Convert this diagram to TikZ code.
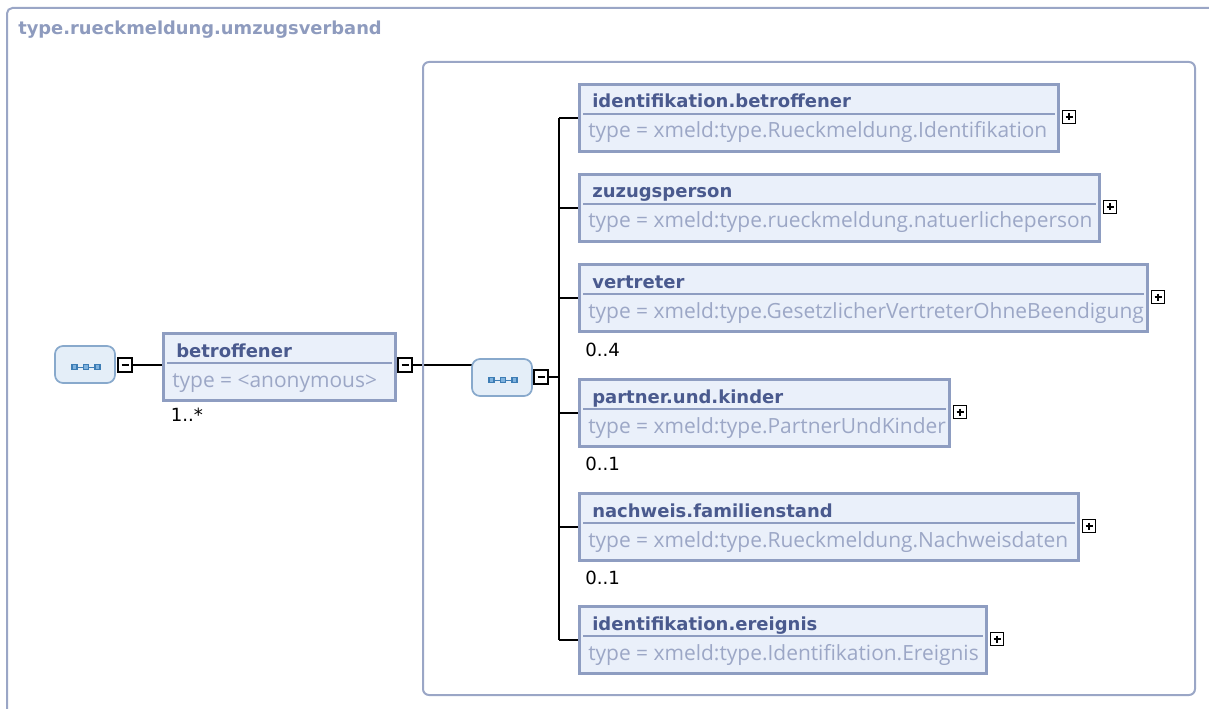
\documentclass[tikz,border=0pt]{standalone}
\usepackage{fontspec}
\setmainfont{DejaVu Sans}
\newfontfamily\typefont{Open Sans}
\usetikzlibrary{calc,backgrounds}
\definecolor{cframe}{HTML}{9AA6C6}
\definecolor{cframetext}{HTML}{8E9BBE}
\definecolor{cborder}{HTML}{8E9DC1}
\definecolor{cfill}{HTML}{EAF0FA}
\definecolor{ctitle}{HTML}{4A5A8E}
\definecolor{ctype}{HTML}{9CA7C6}
\definecolor{cseqborder}{HTML}{88A9CC}
\definecolor{cseqfill}{HTML}{E4EEF8}
\definecolor{cseqdot}{HTML}{3D7DB5}
\definecolor{cseqdotfill}{HTML}{7FB2DE}

\tikzset{
  framebox/.style={draw=cframe,line width=1.5pt,rounded corners=4pt},
  elbox/.style={draw=cborder,fill=cfill,line width=2.25pt,anchor=north west,inner sep=0pt,outer sep=0pt,minimum height=50.25pt},
  elsep/.style={draw=cborder,line width=1.2pt},
  eltitle/.style={anchor=base west,inner sep=0pt,font=\fontsize{13.5pt}{16pt}\selectfont\bfseries,text=ctitle},
  eltype/.style={anchor=base west,inner sep=0pt,font=\typefont\fontsize{15.7pt}{19pt}\selectfont,text=ctype},
  mult/.style={anchor=base west,inner sep=0pt,font=\fontsize{13.6pt}{16pt}\selectfont,text=black},
  frametitle/.style={anchor=base west,inner sep=0pt,font=\fontsize{13.4pt}{16pt}\selectfont\bfseries,text=cframetext},
  seqbox/.style={draw=cseqborder,fill=cseqfill,line width=1.3pt,rounded corners=6pt,minimum width=45pt,minimum height=27.75pt,inner sep=0pt,outer sep=0pt},
  seqline/.style={draw=cseqdot,line width=0.6pt},
  seqsq/.style={draw=cseqdot,fill=cseqdotfill,line width=0.8pt},
  minusbox/.style={draw=black,fill=white,line width=1.1pt,minimum size=10.5pt,inner sep=0pt,outer sep=0pt},
  plusbox/.style={draw=black,fill=white,line width=1pt,minimum size=9.8pt,inner sep=0pt,outer sep=0pt},
  pmsign/.style={draw=black,line width=1.1pt},
  conn/.style={draw=black,line width=1.1pt},
}

\newcommand\seqdots[1]{%
  \draw[seqline] ($(#1.center)+(-10.5,2.5)$) -- ($(#1.center)+(12.5,2.5)$);
  \foreach \dx in {-10.5,1,12.5}{
    \filldraw[seqsq] ($(#1.center)+(\dx-2.5,0)$) rectangle ($(#1.center)+(\dx+2.5,5)$);
  }%
}
\newcommand\minussign[1]{%
  \draw[pmsign] ($(#1.center)+(-3.5,0)$) -- ($(#1.center)+(3.5,0)$);
}
\newcommand\plussign[1]{%
  \draw[pmsign] ($(#1.center)+(-3.5,0)$) -- ($(#1.center)+(3.5,0)$);
  \draw[pmsign] ($(#1.center)+(0,-3.5)$) -- ($(#1.center)+(0,3.5)$);
}
% name, x1, y1, x2, title, type
\newcommand\elemnode[6]{%
  \node[elbox,minimum width={(#4-#2-3)*0.75pt}] (#1) at (#2+1.5,#3+1.5) {};
  \draw[elsep] ($(#1.north west)+(3.5,29.5)$) -- ($(#1.north east)+(-3.5,29.5)$);
  \node[eltitle] (#1-t) at ($(#1.north west)+(12.5,23.5)$) {#5};
  \node[eltype] (#1-ty) at ($(#1.north west)+(8.5,53.5)$) {#6};
}

\begin{document}
\begin{tikzpicture}[x=0.75pt,y=-0.75pt]
\useasboundingbox (0,0) rectangle (1209,709);

% frames
\draw[framebox] (1209,8) -- (7,8) -- (7,709);
\node[frametitle] (ftitle) at (18,35) {type.rueckmeldung.umzugsverband};
\draw[framebox,rounded corners=4.5pt] (423,62) rectangle (1195,695);

% first sequence icon
\node[seqbox] (s1) at (85,364.5) {};
\seqdots{s1}
\node[minusbox] (m1) at (125,365) {};
\minussign{m1}

% betroffener
\elemnode{bet}{162}{332}{397}{betroffener}{type = <anonymous>}
\node[mult] (bet-m) at (170.5,421) {1..*};
\node[minusbox] (m2) at (405,365) {};
\minussign{m2}

% second sequence icon
\node[seqbox] (s2) at (502,377.5) {};
\seqdots{s2}
\node[minusbox] (m3) at (541,377) {};
\minussign{m3}
\coordinate (bar) at (559,377);

% children
\elemnode{e1}{578}{83}{1060}{identifikation.betroffener}{type = xmeld:type.Rueckmeldung.Identifikation}
\elemnode{e2}{578}{173}{1101}{zuzugsperson}{type = xmeld:type.rueckmeldung.natuerlicheperson}
\elemnode{e3}{578}{263}{1149}{vertreter}{type = xmeld:type.GesetzlicherVertreterOhneBeendigung}
\elemnode{e4}{578}{378}{951}{partner.und.kinder}{type = xmeld:type.PartnerUndKinder}
\elemnode{e5}{578}{492}{1080}{nachweis.familienstand}{type = xmeld:type.Rueckmeldung.Nachweisdaten}
\elemnode{e6}{578}{605}{988}{identifikation.ereignis}{type = xmeld:type.Identifikation.Ereignis}

\node[mult] (e3-m) at (585,356) {0..4};
\node[mult] (e4-m) at (585,470) {0..1};
\node[mult] (e5-m) at (585,584) {0..1};

\foreach \e in {e1,e2,e3,e4,e5,e6}{
  \node[plusbox] (\e-p) at ($(\e.east)+(10.5,-1)$) {};
  \plussign{\e-p}
}

% connectors (behind the boxes)
\begin{pgfonlayer}{background}
  \draw[conn] (m1.east) -- (bet.west |- m1.east);
  \draw[conn] (m2.east) -- (s2.west |- m2.east);
  \draw[conn] (m3.east) -- (bar);
  \draw[conn] (e1.west -| bar) -- (e6.west -| bar);
  \foreach \e in {e1,e2,e3,e4,e5,e6}{
    \draw[conn] (\e.west -| bar) -- (\e.west);
  }
\end{pgfonlayer}
\end{tikzpicture}
\end{document}
